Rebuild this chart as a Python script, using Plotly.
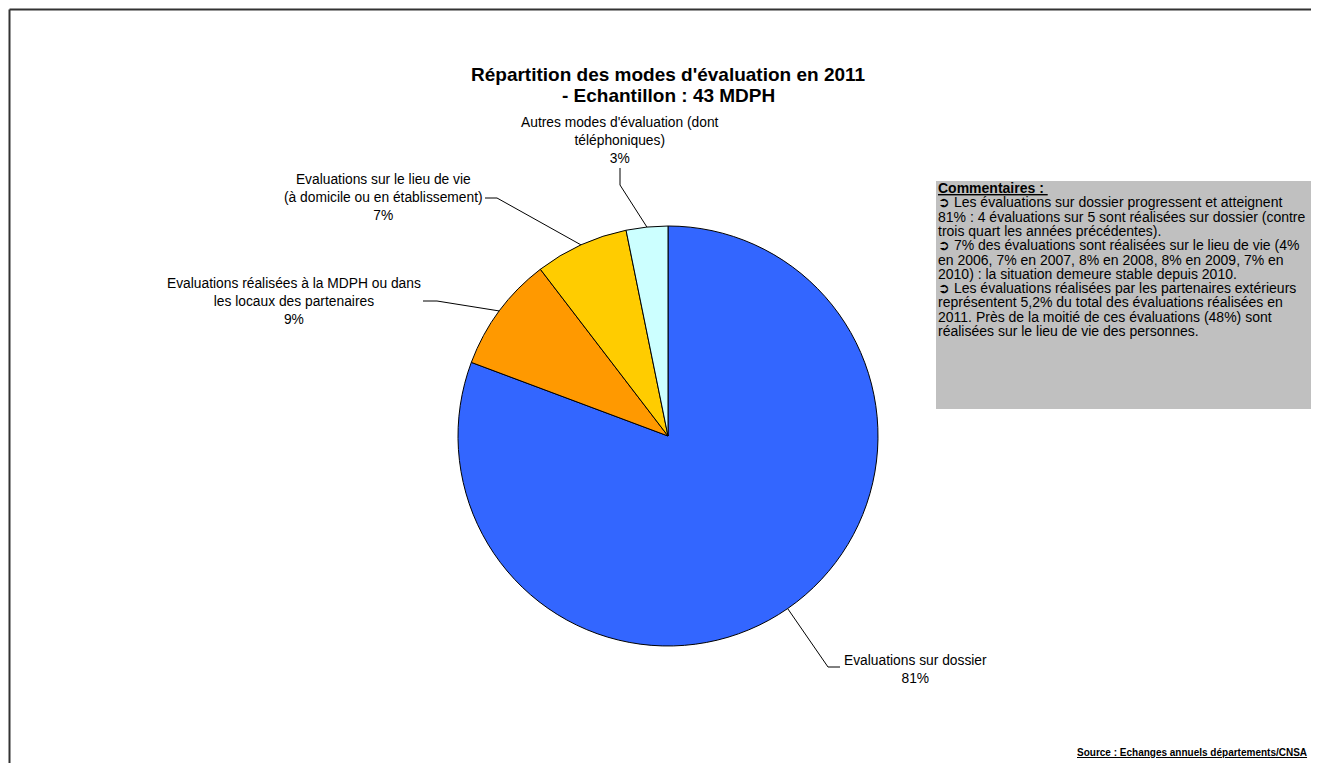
import math
import plotly.graph_objects as go

# page has an 8px body margin: figure is drawn at page offset (8, 8)
OFF = 8
W, H = 1319 - 2 * OFF, 771 - 2 * OFF

# ---- data ----
categories = [
    "Evaluations sur dossier",
    "Evaluations réalisées à la MDPH ou dans les locaux des partenaires",
    "Evaluations sur le lieu de vie (à domicile ou en établissement)",
    "Autres modes d'évaluation (dont téléphoniques)",
]
values = [80.7, 8.9, 7.2, 3.2]
pct_labels = ["81%", "9%", "7%", "3%"]
colors = ["#3366FF", "#FF9900", "#FFCC00", "#CCFFFF"]
label_texts = [
    "Evaluations sur dossier",
    "Evaluations réalisées à la MDPH ou dans<br>les locaux des partenaires",
    "Evaluations sur le lieu de vie<br>(à domicile ou en établissement)",
    "Autres modes d'évaluation (dont<br>téléphoniques)",
]
comment_lines = [
    "<b><u>Commentaires : </u></b>",
    "➲ Les évaluations sur dossier progressent et atteignent",
    "81% : 4 évaluations sur 5 sont réalisées sur dossier (contre",
    "trois quart les années précédentes).",
    "➲ 7% des évaluations sont réalisées sur le lieu de vie (4%",
    "en 2006, 7% en 2007, 8% en 2008, 8% en 2009, 7% en",
    "2010) : la situation demeure stable depuis 2010.",
    "➲ Les évaluations réalisées par les partenaires extérieurs",
    "représentent 5,2% du total des évaluations réalisées en",
    "2011. Près de la moitié de ces évaluations (48%) sont",
    "réalisées sur le lieu de vie des personnes.",
]
title_lines = ["Répartition des modes d'évaluation en 2011", "- Echantillon : 43 MDPH"]
source_text = "Source : Echanges annuels départements/CNSA"

# ---- layout helpers (page pixel -> paper) ----
def px(x):
    return (x - OFF) / W

def py(y):
    return 1 - (y - OFF) / H

CX, CY, R = 668, 436, 210

FONT = "Liberation Sans, Arial, sans-serif"

fig = go.Figure()
fig.add_trace(go.Pie(
    labels=categories,
    values=values,
    marker=dict(colors=colors, line=dict(color="black", width=1)),
    sort=False,
    direction="clockwise",
    rotation=0,
    textinfo="none",
    hoverinfo="label+percent",
    showlegend=False,
    domain=dict(x=[px(CX - R), px(CX + R)], y=[py(CY + R), py(CY - R)]),
))

# slice mid-angle edge points, derived from data
total = sum(values)
edge_pts = []
cum = 0.0
for v in values:
    mid = (cum + v / 2) / total
    th = 2 * math.pi * mid
    edge_pts.append((CX + R * math.sin(th), CY - R * math.cos(th)))
    cum += v

# leader line label-side points (pixels)
leader_side = [
    [(840, 667), (828, 667)],
    [(423, 301), (437, 301)],
    [(485, 198), (497, 198)],
    [(620, 168), (620, 185)],
]
label_pos = [(915, 669), (294, 301), (383, 198), (620, 140)]

shapes = []
for pts, e in zip(leader_side, edge_pts):
    allp = pts + [e]
    path = "M " + " L ".join(f"{px(x):.5f},{py(y):.5f}" for x, y in allp)
    shapes.append(dict(type="path", xref="paper", yref="paper", path=path,
                       line=dict(color="black", width=1)))

# comment box
shapes.append(dict(type="rect", xref="paper", yref="paper",
                   x0=px(936), x1=px(1313), y0=py(409), y1=py(181),
                   fillcolor="#C0C0C0", line=dict(width=0), layer="below"))
# chart frame (left + top edges visible)
shapes.append(dict(type="line", xref="paper", yref="paper",
                   x0=px(9.5), x1=px(9.5), y0=py(9.5), y1=py(800),
                   line=dict(color="#333333", width=2)))
shapes.append(dict(type="line", xref="paper", yref="paper",
                   x0=px(9.5), x1=px(1330), y0=py(9.5), y1=py(9.5),
                   line=dict(color="#333333", width=2)))

annotations = []
for (x, y), t, p in zip(label_pos, label_texts, pct_labels):
    annotations.append(dict(x=px(x), y=py(y), xref="paper", yref="paper",
                            text=f"{t}<br>{p}", showarrow=False,
                            xanchor="center", yanchor="middle", align="center",
                            font=dict(family=FONT, size=13.8, color="black")))

for i, t in enumerate(title_lines):
    annotations.append(dict(x=px(668), y=py(75 + 20 * i), xref="paper", yref="paper",
                            text=f"<b>{t}</b>", showarrow=False,
                            xanchor="center", yanchor="middle",
                            font=dict(family=FONT, size=19, color="black")))

for i, t in enumerate(comment_lines):
    annotations.append(dict(x=px(936), y=py(188 + 14.3 * i), xref="paper", yref="paper",
                            text=t, showarrow=False,
                            xanchor="left", yanchor="middle", align="left",
                            font=dict(family=FONT, size=14, color="black")))

annotations.append(dict(x=px(1309), y=py(752), xref="paper", yref="paper",
                        text=f"<b><u>{source_text}</u></b>", showarrow=False,
                        xanchor="right", yanchor="middle",
                        font=dict(family=FONT, size=10, color="black")))

fig.update_layout(
    width=W, height=H,
    margin=dict(l=0, r=0, t=0, b=0),
    paper_bgcolor="white",
    plot_bgcolor="white",
    shapes=shapes,
    annotations=annotations,
)

fig.write_html("out.html")
